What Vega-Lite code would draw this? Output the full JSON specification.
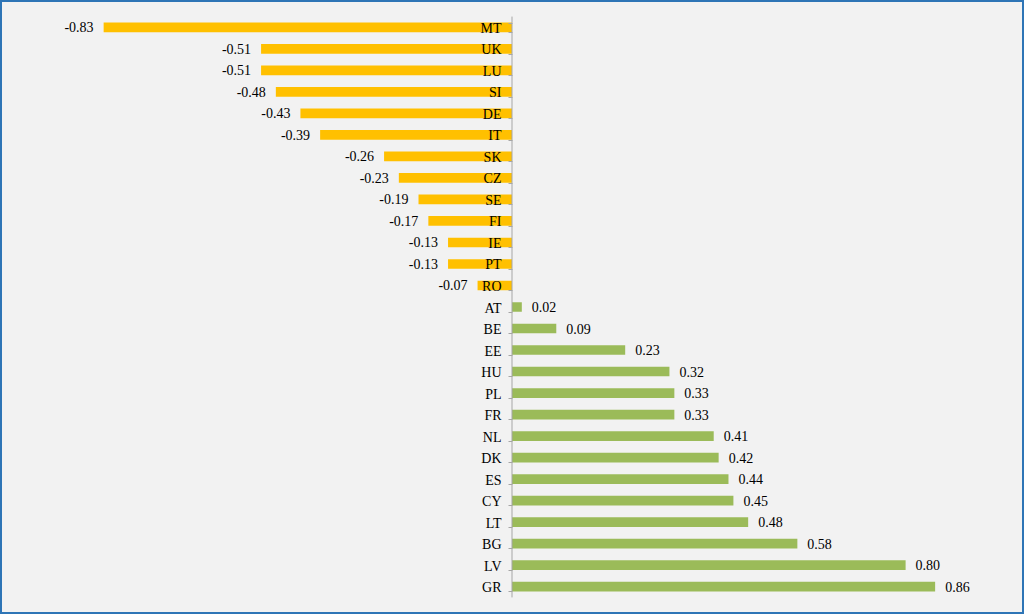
{
  "$schema": "https://vega.github.io/schema/vega-lite/v6.json",
  "width": 1022,
  "height": 612,
  "padding": 1,
  "autosize": {"type": "none"},
  "background": "#f2f2f2",
  "config": {
    "view": {"stroke": "#2e75b6", "strokeWidth": 2},
    "font": "Liberation Serif"
  },
  "data": {
    "values": [
      {"c": "MT", "v": -0.83}, {"c": "UK", "v": -0.51}, {"c": "LU", "v": -0.51},
      {"c": "SI", "v": -0.48}, {"c": "DE", "v": -0.43}, {"c": "IT", "v": -0.39},
      {"c": "SK", "v": -0.26}, {"c": "CZ", "v": -0.23}, {"c": "SE", "v": -0.19},
      {"c": "FI", "v": -0.17}, {"c": "IE", "v": -0.13}, {"c": "PT", "v": -0.13},
      {"c": "RO", "v": -0.07}, {"c": "AT", "v": 0.02}, {"c": "BE", "v": 0.09},
      {"c": "EE", "v": 0.23}, {"c": "HU", "v": 0.32}, {"c": "PL", "v": 0.33},
      {"c": "FR", "v": 0.33}, {"c": "NL", "v": 0.41}, {"c": "DK", "v": 0.42},
      {"c": "ES", "v": 0.44}, {"c": "CY", "v": 0.45}, {"c": "LT", "v": 0.48},
      {"c": "BG", "v": 0.58}, {"c": "LV", "v": 0.80}, {"c": "GR", "v": 0.86}
    ]
  },
  "encoding": {
    "y": {
      "field": "c", "type": "nominal", "sort": null,
      "scale": {"paddingInner": 0.55, "paddingOuter": 1.11},
      "axis": {
        "title": null, "offset": -511, "zindex": 1, "domain": false,
        "tickBand": "extent", "tickSize": 4, "tickColor": "#a6a6a6",
        "labelPadding": 7, "labelFont": "Liberation Serif", "labelFontSize": 14,
        "labelColor": "#000000", "labelBaseline": "middle", "labelOffset": 1
      }
    }
  },
  "layer": [
    {
      "mark": {"type": "bar"},
      "encoding": {
        "x": {"field": "v", "type": "quantitative",
              "scale": {"domain": [-1.0386, 1.0386], "nice": false},
              "axis": null},
        "color": {"condition": {"test": "datum.v < 0", "value": "#ffc000"}, "value": "#9bbb59"}
      }
    },
    {
      "transform": [{"filter": "datum.v < 0"}, {"calculate": "replace(format(datum.v, '.2f'), '\u2212', '-')", "as": "lbl"}],
      "mark": {"type": "text", "align": "right", "dx": -10, "dy": 1, "fontSize": 14, "color": "#000000", "font": "Liberation Serif"},
      "encoding": {
        "x": {"field": "v", "type": "quantitative"},
        "text": {"field": "lbl", "type": "nominal"}
      }
    },
    {
      "transform": [{"filter": "datum.v >= 0"}],
      "mark": {"type": "text", "align": "left", "dx": 10, "dy": 1, "fontSize": 14, "color": "#000000", "font": "Liberation Serif"},
      "encoding": {
        "x": {"field": "v", "type": "quantitative"},
        "text": {"field": "v", "type": "quantitative", "format": ".2f"}
      }
    },
    {
      "data": {"values": [{"a": "MT", "b": "GR"}]},
      "mark": {"type": "rule", "color": "#a6a6a6", "strokeWidth": 1},
      "encoding": {
        "x": {"datum": 0},
        "y": {"field": "a", "type": "nominal", "bandPosition": -0.61},
        "y2": {"field": "b", "bandPosition": 1.61}
      }
    }
  ]
}
